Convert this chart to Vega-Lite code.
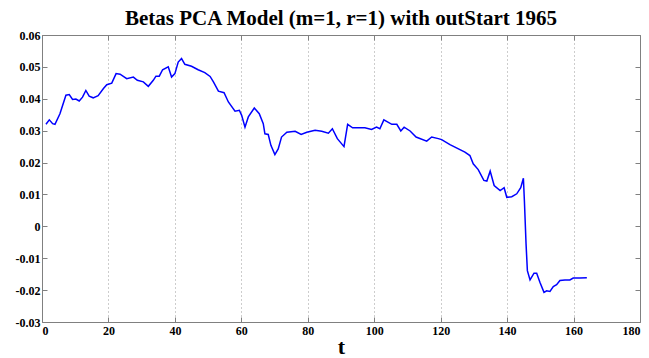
{
  "$schema": "https://vega.github.io/schema/vega-lite/v6.json",
  "width": 598,
  "height": 287,
  "autosize": {"type": "none"},
  "padding": {"left": 42, "top": 35, "right": 9, "bottom": 36},
  "background": "white",
  "title": {
    "text": "Betas PCA Model (m=1, r=1) with outStart 1965",
    "font": "Liberation Serif",
    "fontSize": 21,
    "fontWeight": "bold",
    "color": "black",
    "anchor": "middle",
    "offset": 0
  },
  "config": {
    "view": {"stroke": null},
    "axis": {
      "labelFont": "Liberation Serif",
      "labelFontWeight": "bold",
      "labelFontSize": 12,
      "labelColor": "black",
      "domainColor": "#808080",
      "tickColor": "#808080",
      "tickSize": -5,
      "titleFont": "Liberation Serif"
    }
  },
  "data": {
    "values": [
      {"t": 1.2, "v": 0.0320}, {"t": 2.2, "v": 0.0334}, {"t": 3.2, "v": 0.0322}, {"t": 3.9, "v": 0.0320},
      {"t": 5.4, "v": 0.0353}, {"t": 7.2, "v": 0.0411}, {"t": 8.2, "v": 0.0413}, {"t": 9.2, "v": 0.0398},
      {"t": 10.2, "v": 0.0399}, {"t": 11.2, "v": 0.0393}, {"t": 12.2, "v": 0.0405}, {"t": 13.2, "v": 0.0426},
      {"t": 14.2, "v": 0.0408}, {"t": 15.4, "v": 0.0403}, {"t": 16.9, "v": 0.0410}, {"t": 18.5, "v": 0.0432},
      {"t": 19.5, "v": 0.0444}, {"t": 21.0, "v": 0.0449}, {"t": 22.3, "v": 0.0479}, {"t": 23.5, "v": 0.0477},
      {"t": 25.5, "v": 0.0463}, {"t": 27.5, "v": 0.0468}, {"t": 28.7, "v": 0.0458}, {"t": 30.5, "v": 0.0453},
      {"t": 32.0, "v": 0.0439}, {"t": 33.5, "v": 0.0458}, {"t": 34.3, "v": 0.0471}, {"t": 35.3, "v": 0.0471},
      {"t": 36.3, "v": 0.0491}, {"t": 38.0, "v": 0.0500}, {"t": 39.0, "v": 0.0468}, {"t": 40.0, "v": 0.0479},
      {"t": 41.0, "v": 0.0515}, {"t": 42.0, "v": 0.0526}, {"t": 43.0, "v": 0.0508}, {"t": 45.0, "v": 0.0502},
      {"t": 47.0, "v": 0.0491}, {"t": 49.0, "v": 0.0482}, {"t": 50.6, "v": 0.0470}, {"t": 51.6, "v": 0.0453},
      {"t": 53.1, "v": 0.0424}, {"t": 54.8, "v": 0.0419}, {"t": 56.1, "v": 0.0390}, {"t": 58.1, "v": 0.0361},
      {"t": 59.4, "v": 0.0364}, {"t": 60.1, "v": 0.0348}, {"t": 61.1, "v": 0.0311}, {"t": 62.1, "v": 0.0343},
      {"t": 63.9, "v": 0.0371}, {"t": 65.4, "v": 0.0353}, {"t": 66.6, "v": 0.0322}, {"t": 67.1, "v": 0.0290},
      {"t": 68.1, "v": 0.0288}, {"t": 68.9, "v": 0.0254}, {"t": 70.1, "v": 0.0225}, {"t": 71.1, "v": 0.0243},
      {"t": 72.1, "v": 0.0280}, {"t": 73.7, "v": 0.0295}, {"t": 76.2, "v": 0.0298}, {"t": 78.0, "v": 0.0288},
      {"t": 79.7, "v": 0.0295}, {"t": 82.2, "v": 0.0301}, {"t": 84.2, "v": 0.0298}, {"t": 86.2, "v": 0.0292},
      {"t": 87.4, "v": 0.0306}, {"t": 88.9, "v": 0.0275}, {"t": 90.9, "v": 0.0250}, {"t": 92.0, "v": 0.0320},
      {"t": 93.5, "v": 0.0309}, {"t": 97.2, "v": 0.0309}, {"t": 99.2, "v": 0.0304}, {"t": 100.7, "v": 0.0311},
      {"t": 101.7, "v": 0.0306}, {"t": 102.9, "v": 0.0334}, {"t": 105.3, "v": 0.0320}, {"t": 106.8, "v": 0.0320},
      {"t": 108.0, "v": 0.0299}, {"t": 109.0, "v": 0.0311}, {"t": 110.8, "v": 0.0299}, {"t": 112.6, "v": 0.0280},
      {"t": 115.8, "v": 0.0267}, {"t": 117.3, "v": 0.0280}, {"t": 119.3, "v": 0.0275}, {"t": 120.3, "v": 0.0272},
      {"t": 122.8, "v": 0.0256}, {"t": 127.3, "v": 0.0233}, {"t": 128.8, "v": 0.0222}, {"t": 129.8, "v": 0.0196},
      {"t": 131.3, "v": 0.0178}, {"t": 133.0, "v": 0.0144}, {"t": 133.9, "v": 0.0142}, {"t": 134.9, "v": 0.0173},
      {"t": 136.1, "v": 0.0128}, {"t": 137.9, "v": 0.0112}, {"t": 139.1, "v": 0.0121}, {"t": 139.9, "v": 0.0091},
      {"t": 141.4, "v": 0.0093}, {"t": 142.9, "v": 0.0102}, {"t": 144.1, "v": 0.0121}, {"t": 144.9, "v": 0.0151},
      {"t": 145.2, "v": 0.0081}, {"t": 145.7, "v": -0.0055}, {"t": 146.1, "v": -0.0139}, {"t": 146.9, "v": -0.0168},
      {"t": 148.1, "v": -0.0147}, {"t": 148.9, "v": -0.0147}, {"t": 149.9, "v": -0.0176}, {"t": 151.1, "v": -0.0207},
      {"t": 151.9, "v": -0.0202}, {"t": 152.9, "v": -0.0204}, {"t": 153.9, "v": -0.0189}, {"t": 154.9, "v": -0.0183},
      {"t": 155.9, "v": -0.0170}, {"t": 157.4, "v": -0.0168}, {"t": 158.9, "v": -0.0168}, {"t": 159.9, "v": -0.0162},
      {"t": 161.9, "v": -0.0162}, {"t": 164.0, "v": -0.0161}
    ]
  },
  "layer": [
    {
      "mark": {"type": "line", "color": "#0000ff", "strokeWidth": 1.5, "clip": true},
      "encoding": {
        "x": {
          "field": "t", "type": "quantitative",
          "scale": {"domain": [0, 180], "nice": false, "zero": false},
          "axis": {
            "values": [0, 20, 40, 60, 80, 100, 120, 140, 160, 180],
            "grid": true, "gridColor": "#9a9a9a", "gridDash": [1, 3], "gridWidth": 1,
            "labelFont": "Liberation Serif", "labelFontWeight": "bold", "labelFontSize": 12, "labelColor": "black",
            "labelPadding": 8,
            "title": "t", "titleFont": "Liberation Serif", "titleFontSize": 22, "titleFontWeight": "bold", "titleColor": "black", "titlePadding": 0
          }
        },
        "y": {
          "field": "v", "type": "quantitative",
          "scale": {"domain": [-0.03, 0.06], "nice": false, "zero": false},
          "axis": {
            "values": [-0.03, -0.02, -0.01, 0, 0.01, 0.02, 0.03, 0.04, 0.05, 0.06],
            "labelExpr": "'' + round(datum.value*100)/100",
            "labelFont": "Liberation Serif", "labelFontWeight": "bold", "labelFontSize": 12, "labelColor": "black",
            "grid": false, "title": null, "labelPadding": 7
          }
        }
      }
    },
    {
      "mark": {"type": "point", "opacity": 0},
      "encoding": {
        "x": {
          "field": "t", "type": "quantitative",
          "scale": {"domain": [0, 180], "nice": false, "zero": false},
          "axis": {"orient": "top", "values": [0, 20, 40, 60, 80, 100, 120, 140, 160, 180], "labels": false, "title": null, "grid": false}
        },
        "y": {
          "field": "v", "type": "quantitative",
          "scale": {"domain": [-0.03, 0.06], "nice": false, "zero": false},
          "axis": {"orient": "right", "values": [-0.03, -0.02, -0.01, 0, 0.01, 0.02, 0.03, 0.04, 0.05, 0.06], "labels": false, "title": null, "grid": false}
        }
      }
    }
  ],
  "resolve": {"axis": {"x": "independent", "y": "independent"}}
}
